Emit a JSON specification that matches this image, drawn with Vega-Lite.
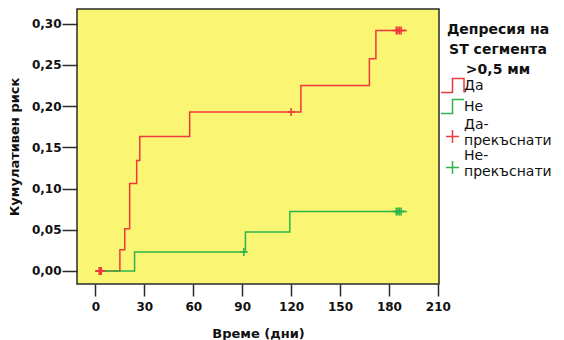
{
  "$schema": "https://vega.github.io/schema/vega-lite/v6.json",
  "width": 362,
  "height": 275,
  "autosize": {"type": "none"},
  "padding": {"left": 77, "top": 9, "right": 125, "bottom": 56},
  "background": "white",
  "config": {
    "font": "DejaVu Sans",
    "view": {"fill": "#FAF573", "stroke": "#2a2a2a", "strokeWidth": 1.5},
    "legend": {
      "orient": "none",
      "legendX": 368,
      "legendY": 14,
      "padding": 0,
      "titleAnchor": "middle",
      "titleAlign": "center",
      "titleFont": "DejaVu Sans",
      "titleFontWeight": "bold",
      "titleFontSize": 14,
      "titleLineHeight": 20,
      "titleColor": "#111",
      "titlePadding": 1,
      "labelFont": "DejaVu Sans",
      "labelFontSize": 14,
      "labelColor": "#111",
      "labelLineHeight": 19,
      "labelOffset": 4,
      "labelLimit": 200,
      "symbolSize": 169,
      "symbolStrokeWidth": 1.5,
      "symbolFillColor": "transparent",
      "rowPadding": 0
    }
  },
  "datasets": {
    "curves": [
      {"day": 0, "risk": 0, "series": "Да"},
      {"day": 15, "risk": 0.0258, "series": "Да"},
      {"day": 18, "risk": 0.0513, "series": "Да"},
      {"day": 21, "risk": 0.106, "series": "Да"},
      {"day": 25.3, "risk": 0.134, "series": "Да"},
      {"day": 27.2, "risk": 0.163, "series": "Да"},
      {"day": 57.8, "risk": 0.193, "series": "Да"},
      {"day": 126, "risk": 0.225, "series": "Да"},
      {"day": 168, "risk": 0.2576, "series": "Да"},
      {"day": 172, "risk": 0.2916, "series": "Да"},
      {"day": 191, "risk": 0.2916, "series": "Да"},
      {"day": 0, "risk": 0, "series": "Не"},
      {"day": 24, "risk": 0.0231, "series": "Не"},
      {"day": 92, "risk": 0.0473, "series": "Не"},
      {"day": 119.2, "risk": 0.0723, "series": "Не"},
      {"day": 191, "risk": 0.0723, "series": "Не"}
    ],
    "censored": [
      {"day": 2.3, "risk": 0, "series": "Да-прекъснати"},
      {"day": 3, "risk": 0, "series": "Да-прекъснати"},
      {"day": 3.6, "risk": 0, "series": "Да-прекъснати"},
      {"day": 120, "risk": 0.193, "series": "Да-прекъснати"},
      {"day": 184.5, "risk": 0.2916, "series": "Да-прекъснати"},
      {"day": 185.5, "risk": 0.2916, "series": "Да-прекъснати"},
      {"day": 186.5, "risk": 0.2916, "series": "Да-прекъснати"},
      {"day": 187.5, "risk": 0.2916, "series": "Да-прекъснати"},
      {"day": 91, "risk": 0.0231, "series": "Не-прекъснати"},
      {"day": 184.5, "risk": 0.0723, "series": "Не-прекъснати"},
      {"day": 185.5, "risk": 0.0723, "series": "Не-прекъснати"},
      {"day": 186.5, "risk": 0.0723, "series": "Не-прекъснати"},
      {"day": 187.5, "risk": 0.0723, "series": "Не-прекъснати"}
    ]
  },
  "encoding": {
    "x": {
      "field": "day",
      "type": "quantitative",
      "scale": {"domain": [-11.3, 210.7], "nice": false, "zero": false},
      "axis": {
        "title": "Време (дни)",
        "values": [0, 30, 60, 90, 120, 150, 180, 210],
        "grid": false,
        "domain": false,
        "tickSize": 12,
        "tickColor": "#2a2a2a",
        "tickWidth": 1.5,
        "labelFont": "DejaVu Sans",
        "labelFontWeight": "bold",
        "labelFontSize": 12,
        "labelColor": "#111",
        "labelPadding": 5,
        "titleFont": "DejaVu Sans",
        "titleFontWeight": "bold",
        "titleFontSize": 13,
        "titleColor": "#111",
        "titlePadding": 15
      }
    },
    "y": {
      "field": "risk",
      "type": "quantitative",
      "scale": {"domain": [-0.0158, 0.3178], "nice": false, "zero": false},
      "axis": {
        "title": "Кумулативен риск",
        "values": [0, 0.05, 0.1, 0.15, 0.2, 0.25, 0.3],
        "labelExpr": "replace(format(datum.value, '.2f'), '.', ',')",
        "grid": false,
        "domain": false,
        "tickSize": 15,
        "tickColor": "#2a2a2a",
        "tickWidth": 1.5,
        "labelFont": "DejaVu Sans",
        "labelFontWeight": "bold",
        "labelFontSize": 12,
        "labelColor": "#111",
        "labelPadding": 1,
        "titleFont": "DejaVu Sans",
        "titleFontWeight": "bold",
        "titleFontSize": 13,
        "titleColor": "#111",
        "titlePadding": 10
      }
    }
  },
  "layer": [
    {
      "data": {"name": "curves"},
      "mark": {"type": "line", "interpolate": "step-after", "strokeWidth": 1.5},
      "encoding": {
        "color": {
          "field": "series",
          "type": "nominal",
          "scale": {
            "domain": ["Да", "Не", "Да-прекъснати", "Не-прекъснати"],
            "range": ["#EE3A3E", "#2DB54A", "#EE3A3E", "#2DB54A"]
          },
          "legend": {
            "title": ["Депресия на", "ST сегмента", ">0,5 мм"],
            "labelExpr": "datum.label == 'Да-прекъснати' ? ['Да-', 'прекъснати'] : datum.label == 'Не-прекъснати' ? ['Не-', 'прекъснати'] : datum.label",
            "encode": {"labels": {"update": {"dy": {"signal": "indexof(datum.value, 'прекъснати') >= 0 ? -12 : 0"}}}}
          }
        }
      }
    },
    {
      "data": {"name": "censored"},
      "mark": {"type": "point", "filled": false, "strokeWidth": 1.5, "size": 64, "opacity": 1},
      "encoding": {
        "color": {
          "field": "series",
          "type": "nominal",
          "scale": {
            "domain": ["Да", "Не", "Да-прекъснати", "Не-прекъснати"],
            "range": ["#EE3A3E", "#2DB54A", "#EE3A3E", "#2DB54A"]
          },
          "legend": {
            "title": ["Депресия на", "ST сегмента", ">0,5 мм"],
            "labelExpr": "datum.label == 'Да-прекъснати' ? ['Да-', 'прекъснати'] : datum.label == 'Не-прекъснати' ? ['Не-', 'прекъснати'] : datum.label",
            "encode": {"labels": {"update": {"dy": {"signal": "indexof(datum.value, 'прекъснати') >= 0 ? -12 : 0"}}}}
          }
        },
        "shape": {
          "field": "series",
          "type": "nominal",
          "scale": {
            "domain": ["Да", "Не", "Да-прекъснати", "Не-прекъснати"],
            "range": [
              "M-1.77,1.08L0,1.08L0,-1.08L1.77,-1.08L1.77,1.08",
              "M-1.77,1.08L0,1.08L0,-1.08L1.77,-1.08",
              "M-1,0L1,0M0,-1L0,1",
              "M-1,0L1,0M0,-1L0,1"
            ]
          },
          "legend": {
            "title": ["Депресия на", "ST сегмента", ">0,5 мм"],
            "labelExpr": "datum.label == 'Да-прекъснати' ? ['Да-', 'прекъснати'] : datum.label == 'Не-прекъснати' ? ['Не-', 'прекъснати'] : datum.label",
            "encode": {"labels": {"update": {"dy": {"signal": "indexof(datum.value, 'прекъснати') >= 0 ? -12 : 0"}}}}
          }
        }
      }
    }
  ]
}
